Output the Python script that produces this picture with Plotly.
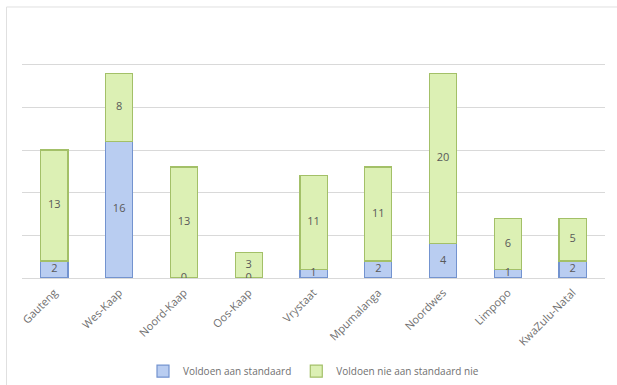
import plotly.graph_objects as go

categories = ["Gauteng", "Wes-Kaap", "Noord-Kaap", "Oos-Kaap", "Vrystaat",
              "Mpumalanga", "Noordwes", "Limpopo", "KwaZulu-Natal"]
voldoen = [2, 16, 0, 0, 1, 2, 4, 1, 2]
voldoen_nie = [13, 8, 13, 3, 11, 11, 20, 6, 5]
y_ticks = [0, 5, 10, 15, 20, 25, 30]

blue_fill = "#b9cdf1"
blue_line = "#7393cf"
green_fill = "#dcf0b4"
green_line = "#a3c068"
label_col = "#595959"

fig = go.Figure()
fig.add_trace(go.Bar(x=categories, y=voldoen, name="Voldoen aan standaard",
                     marker=dict(color=blue_fill, line=dict(color=blue_line, width=1.2)),
                     width=0.42))
fig.add_trace(go.Bar(x=categories, y=voldoen_nie, name="Voldoen nie aan standaard nie",
                     marker=dict(color=green_fill, line=dict(color=green_line, width=1.2)),
                     width=0.42))

fig.add_trace(go.Scatter(x=categories, y=[v / 2 for v in voldoen], mode="text",
                         text=[str(v) for v in voldoen], showlegend=False,
                         textfont=dict(color=label_col, size=11, family="Open Sans"),
                         hoverinfo="skip"))
fig.add_trace(go.Scatter(x=categories, y=[a + b / 2 for a, b in zip(voldoen, voldoen_nie)],
                         mode="text", text=[str(v) for v in voldoen_nie], showlegend=False,
                         textfont=dict(color=label_col, size=11, family="Open Sans"),
                         hoverinfo="skip"))

fig.update_layout(
    barmode="stack",
    width=617, height=385,
    margin=dict(l=22, r=12, t=22, b=107),
    paper_bgcolor="white", plot_bgcolor="white",
    font=dict(family="Open Sans", color=label_col, size=10),
    xaxis=dict(tickangle=-45, showgrid=False, showline=False, ticks="outside",
               ticklen=3, tickcolor="rgba(0,0,0,0)",
               automargin=False, tickfont=dict(size=11, color="#707070")),
    yaxis=dict(range=[0, 30], tickvals=y_ticks, showticklabels=False,
               automargin=False,
               gridcolor="#d9d9d9", gridwidth=1, zeroline=True,
               zerolinecolor="#d9d9d9", zerolinewidth=1),
    legend=dict(orientation="h", x=0.5, xanchor="center", yref="container",
                y=0.036, yanchor="middle", traceorder="normal",
                font=dict(size=10, color="#707070"), itemwidth=30),
    showlegend=True,
    shapes=[
        dict(type="line", xref="paper", yref="paper", x0=-0.0266, x1=-0.0266,
             y0=1.0586, y1=-0.42, line=dict(color="#e0e0e0", width=1)),
        dict(type="line", xref="paper", yref="paper", x0=-0.0266, x1=1.03,
             y0=1.0586, y1=1.0586, line=dict(color="#e0e0e0", width=1)),
    ],
)

fig.write_html("out.html")
